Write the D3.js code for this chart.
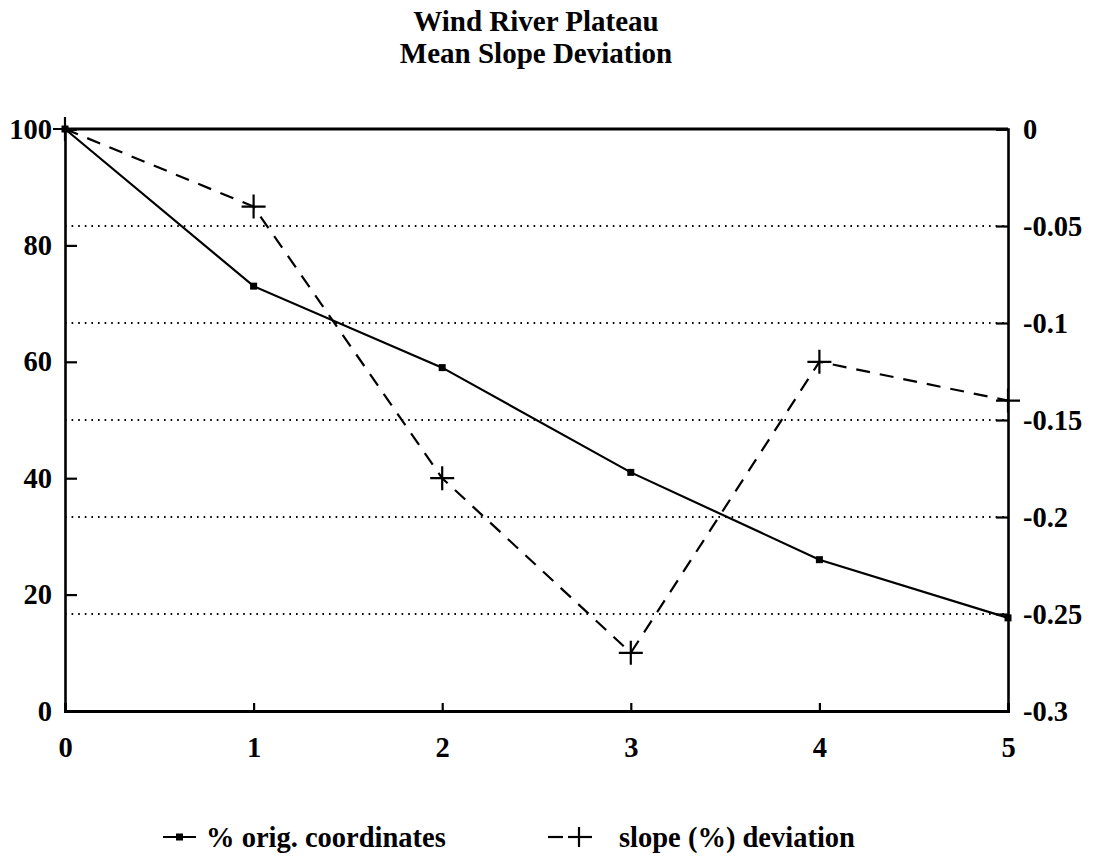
<!DOCTYPE html>
<html>
<head>
<meta charset="utf-8">
<script src="https://cdn.jsdelivr.net/npm/d3@7"></script>
<style>
  html, body { margin: 0; padding: 0; background: #fff; }
  svg { display: block; }
  text { font-family: "Liberation Serif", "Times New Roman", serif; font-weight: bold; fill: #000; }
</style>
</head>
<body>
<svg id="chart" width="1094" height="862"></svg>
<script>
// Wind River Plateau: share of original coordinates kept vs. mean slope deviation
const steps = [0, 1, 2, 3, 4, 5];
const pctOrigCoords = [100, 73, 59, 41, 26, 16];
const slopeDeviation = [0, -0.04, -0.18, -0.27, -0.12, -0.14];

const leftTicks = [0, 20, 40, 60, 80, 100];
const rightTicks = [0, -0.05, -0.1, -0.15, -0.2, -0.25, -0.3];
const rightTickLabels = ["0", "-0.05", "-0.1", "-0.15", "-0.2", "-0.25", "-0.3"];
const titleLines = ["Wind River Plateau", "Mean Slope Deviation"];
const legendLabels = ["% orig. coordinates", "slope (%) deviation"];

const svg = d3.select("#chart");
const plot = { left: 65, right: 1008, top: 129, bottom: 711 };
const labelSize = 28.5;

const x = d3.scaleLinear().domain([0, 5]).range([plot.left, plot.right]);
const yL = d3.scaleLinear().domain([0, 100]).range([plot.bottom, plot.top]);
const yR = d3.scaleLinear().domain([-0.3, 0]).range([plot.bottom, plot.top]);

// Title
svg.append("g").selectAll("text").data(titleLines).join("text")
  .attr("x", 536).attr("y", (d, i) => 31 + i * 32)
  .attr("text-anchor", "middle").attr("font-size", 29).text(d => d);

// Dotted gridlines at the inner right-axis ticks
svg.append("g").selectAll("line")
  .data(rightTicks.filter(t => t !== 0 && t !== -0.3)).join("line")
  .attr("x1", plot.left).attr("x2", plot.right)
  .attr("y1", d => yR(d)).attr("y2", d => yR(d))
  .attr("stroke", "#000").attr("stroke-width", 2)
  .attr("stroke-dasharray", "1.6,5");

// Left axis
const leftAxis = d3.axisLeft(yL).tickValues(leftTicks).tickSize(-12).tickPadding(13);
const gL = svg.append("g").attr("transform", `translate(${plot.left},0)`).call(leftAxis);

// Right axis
const rightAxis = d3.axisRight(yR).tickValues(rightTicks)
  .tickFormat((d, i) => rightTickLabels[i]).tickSize(-12).tickPadding(15);
const gR = svg.append("g").attr("transform", `translate(${plot.right},0)`).call(rightAxis);

// Bottom axis
const bottomAxis = d3.axisBottom(x).tickValues(steps).tickFormat(d3.format("d")).tickSize(-8).tickPadding(26);
const gB = svg.append("g").attr("transform", `translate(0,${plot.bottom})`).call(bottomAxis);

// Top border
svg.append("line")
  .attr("x1", plot.left).attr("x2", plot.right)
  .attr("y1", plot.top).attr("y2", plot.top)
  .attr("stroke", "#000").attr("stroke-width", 3);

[gL, gR, gB].forEach(g => {
  g.attr("font-size", labelSize).attr("font-family", null);
  g.select(".domain").attr("stroke", "#000").attr("stroke-width", 2.6);
  g.selectAll(".tick line").attr("stroke", "#000").attr("stroke-width", 2.2);
  g.selectAll(".tick text").attr("font-size", labelSize)
    .attr("font-family", "Liberation Serif").attr("font-weight", "bold");
});
gB.select(".domain").attr("stroke-width", 3);
gB.selectAll(".tick line").filter(d => d === 0 || d === 5).remove();

// Solid series on left axis
const solidLine = d3.line().x((d, i) => x(steps[i])).y(d => yL(d));
svg.append("path").datum(pctOrigCoords)
  .attr("d", solidLine).attr("fill", "none")
  .attr("stroke", "#000").attr("stroke-width", 2.2);
svg.append("g").selectAll("rect").data(pctOrigCoords).join("rect")
  .attr("x", (d, i) => x(steps[i]) - 3.5).attr("y", d => yL(d) - 3.5)
  .attr("width", 7).attr("height", 7).attr("fill", "#000");

// Dashed series on right axis
const dashLine = d3.line().x((d, i) => x(steps[i])).y(d => yR(d));
svg.append("path").datum(slopeDeviation)
  .attr("d", dashLine).attr("fill", "none")
  .attr("stroke", "#000").attr("stroke-width", 2.2)
  .attr("stroke-dasharray", "14,10");
const plusSize = 12;
svg.append("g").selectAll("path").data(slopeDeviation).join("path")
  .attr("d", (d, i) => {
    const cx = x(steps[i]), cy = yR(d);
    return `M${cx - plusSize},${cy}H${cx + plusSize}M${cx},${cy - plusSize}V${cy + plusSize}`;
  })
  .attr("stroke", "#000").attr("stroke-width", 2.2).attr("fill", "none");

// Legend
const legend = svg.append("g");
const ly = 837;
legend.append("line").attr("x1", 163).attr("x2", 196).attr("y1", ly).attr("y2", ly)
  .attr("stroke", "#000").attr("stroke-width", 2.2);
legend.append("rect").attr("x", 176).attr("y", ly - 3.5).attr("width", 7).attr("height", 7).attr("fill", "#000");
legend.append("text").attr("x", 206).attr("y", ly + 10).attr("font-size", labelSize).text(legendLabels[0]);

legend.append("line").attr("x1", 548).attr("x2", 563).attr("y1", ly).attr("y2", ly)
  .attr("stroke", "#000").attr("stroke-width", 2.2);
legend.append("line").attr("x1", 568).attr("x2", 592).attr("y1", ly).attr("y2", ly)
  .attr("stroke", "#000").attr("stroke-width", 2.2);
legend.append("line").attr("x1", 579).attr("x2", 579).attr("y1", ly - 10).attr("y2", ly + 10)
  .attr("stroke", "#000").attr("stroke-width", 2.2);
legend.append("text").attr("x", 619).attr("y", ly + 10).attr("font-size", labelSize).text(legendLabels[1]);
</script>
</body>
</html>
